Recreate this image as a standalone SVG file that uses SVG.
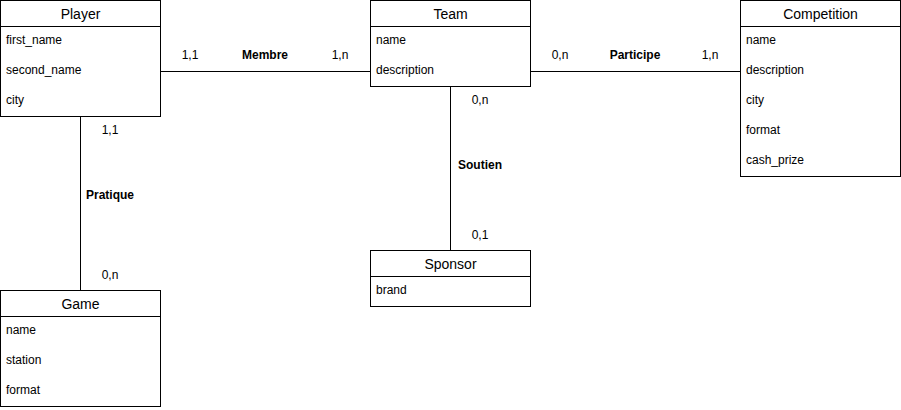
<svg xmlns="http://www.w3.org/2000/svg" width="901" height="410" viewBox="0 0 901 410">
<style>
.box{fill:#fff;stroke:#000;stroke-width:1}
.ln{stroke:#000;stroke-width:1;fill:none}
text{font-family:"Liberation Sans",Arial,sans-serif;fill:#000}
.t{font-size:14px;text-anchor:middle}
.a{font-size:12px}
.l{font-size:12px;text-anchor:middle}
.b{font-size:12px;font-weight:bold;text-anchor:middle}
</style>
<rect width="901" height="410" fill="#fff"/>
<g id="connectors">
<path class="ln" d="M160.5 71.5H370.5"/>
<path class="ln" d="M530.5 71.5H740.5"/>
<path class="ln" d="M450.5 86.5V250.5"/>
<path class="ln" d="M80.5 116.5V290.5"/>
<text class="l" x="190" y="59">1,1</text>
<text class="b" x="265" y="59">Membre</text>
<text class="l" x="340" y="59">1,n</text>
<text class="l" x="560" y="59">0,n</text>
<text class="b" x="635" y="59">Participe</text>
<text class="l" x="710" y="59">1,n</text>
<text class="l" x="480" y="104">0,n</text>
<text class="b" x="480" y="169">Soutien</text>
<text class="l" x="480" y="239">0,1</text>
<text class="l" x="110" y="134">1,1</text>
<text class="b" x="110" y="199">Pratique</text>
<text class="l" x="110" y="279">0,n</text>
</g>
<g id="player">
<rect class="box" x="0.5" y="0.5" width="160" height="116"/>
<path class="ln" d="M0.5 26.5H160.5"/>
<text class="t" x="80.5" y="19">Player</text>
<text class="a" x="6" y="44">first_name</text>
<text class="a" x="6" y="74">second_name</text>
<text class="a" x="6" y="104">city</text>
</g>
<g id="team">
<rect class="box" x="370.5" y="0.5" width="160" height="86"/>
<path class="ln" d="M370.5 26.5H530.5"/>
<text class="t" x="450.5" y="19">Team</text>
<text class="a" x="376" y="44">name</text>
<text class="a" x="376" y="74">description</text>
</g>
<g id="competition">
<rect class="box" x="740.5" y="0.5" width="160" height="176"/>
<path class="ln" d="M740.5 26.5H900.5"/>
<text class="t" x="820.5" y="19">Competition</text>
<text class="a" x="746" y="44">name</text>
<text class="a" x="746" y="74">description</text>
<text class="a" x="746" y="104">city</text>
<text class="a" x="746" y="134">format</text>
<text class="a" x="746" y="164">cash_prize</text>
</g>
<g id="sponsor">
<rect class="box" x="370.5" y="250.5" width="160" height="56"/>
<path class="ln" d="M370.5 276.5H530.5"/>
<text class="t" x="450.5" y="269">Sponsor</text>
<text class="a" x="376" y="294">brand</text>
</g>
<g id="game">
<rect class="box" x="0.5" y="290.5" width="160" height="116"/>
<path class="ln" d="M0.5 316.5H160.5"/>
<text class="t" x="80.5" y="309">Game</text>
<text class="a" x="6" y="334">name</text>
<text class="a" x="6" y="364">station</text>
<text class="a" x="6" y="394">format</text>
</g>
</svg>
